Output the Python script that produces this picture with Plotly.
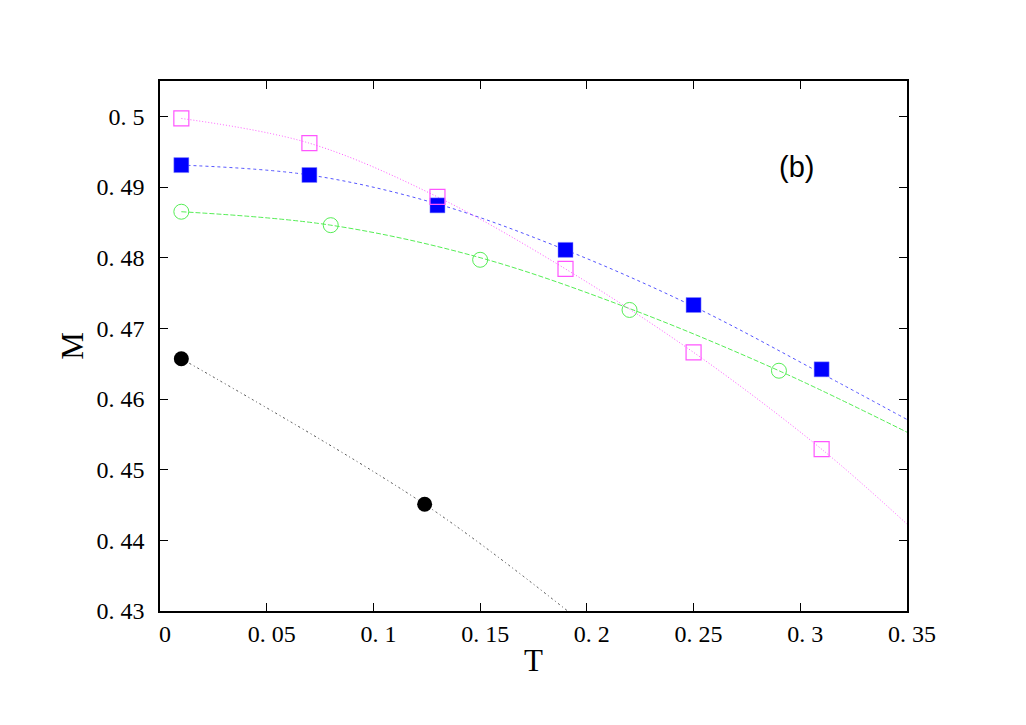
import plotly.graph_objects as go

# Data
T_mag = [0.01, 0.07, 0.13, 0.19, 0.25, 0.31]
M_mag = [0.4997, 0.4962, 0.4886, 0.4784, 0.4666, 0.4529]
T_blue = [0.01, 0.07, 0.13, 0.19, 0.25, 0.31]
M_blue = [0.4931, 0.4917, 0.4874, 0.4811, 0.4733, 0.4642]
T_green = [0.01, 0.08, 0.15, 0.22, 0.29]
M_green = [0.4865, 0.4846, 0.4797, 0.4726, 0.4640]
T_black = [0.01, 0.124]
M_black = [0.4657, 0.4451]

# Fitted curves
Tc_mag = [0.01, 0.07, 0.13, 0.19, 0.25, 0.31, 0.35]
Mc_mag = [0.4997, 0.4962, 0.4886, 0.4784, 0.4666, 0.4529, 0.4423]
Tc_blue = [0.01, 0.07, 0.13, 0.19, 0.25, 0.31, 0.35]
Mc_blue = [0.4931, 0.4917, 0.4876, 0.4811, 0.4731, 0.4636, 0.4571]
Tc_green = [0.01, 0.08, 0.15, 0.22, 0.29, 0.35]
Mc_green = [0.4865, 0.4846, 0.4800, 0.4728, 0.4640, 0.4553]
Tc_black = [0.01, 0.124, 0.191]
Mc_black = [0.4657, 0.4451, 0.4300]

x_ticks = [0, 0.05, 0.1, 0.15, 0.2, 0.25, 0.3, 0.35]
x_ticktext = ["0", "0. 05", "0. 1", "0. 15", "0. 2", "0. 25", "0. 3", "0. 35"]
y_ticks = [0.43, 0.44, 0.45, 0.46, 0.47, 0.48, 0.49, 0.5]
y_ticktext = ["0. 43", "0. 44", "0. 45", "0. 46", "0. 47", "0. 48", "0. 49", "0. 5"]

fig = go.Figure()

# curves
fig.add_trace(go.Scatter(x=Tc_black, y=Mc_black, mode="lines", line_shape="spline",
                         line=dict(color="#444444", width=1, dash="2px,3px,1px,3px"), showlegend=False))
fig.add_trace(go.Scatter(x=Tc_green, y=Mc_green, mode="lines", line_shape="spline",
                         line=dict(color="#55ee55", width=1, dash="5px,2px"), showlegend=False))
fig.add_trace(go.Scatter(x=Tc_blue, y=Mc_blue, mode="lines", line_shape="spline",
                         line=dict(color="#5555ff", width=1, dash="3px,3px"), showlegend=False))
fig.add_trace(go.Scatter(x=Tc_mag, y=Mc_mag, mode="lines", line_shape="spline",
                         line=dict(color="#ff55ff", width=1, dash="1px,2px"), showlegend=False))

# markers
fig.add_trace(go.Scatter(x=T_black, y=M_black, mode="markers",
                         marker=dict(symbol="circle", size=15, color="black"), showlegend=False))
fig.add_trace(go.Scatter(x=T_green, y=M_green, mode="markers",
                         marker=dict(symbol="circle-open", size=15, color="#55ee55",
                                     line=dict(width=1, color="#55ee55")), showlegend=False))
fig.add_trace(go.Scatter(x=T_blue, y=M_blue, mode="markers",
                         marker=dict(symbol="square", size=15, color="#0000ff",
                                     line=dict(width=0.5, color="#8888ff")), showlegend=False))
fig.add_trace(go.Scatter(x=T_mag, y=M_mag, mode="markers",
                         marker=dict(symbol="square-open", size=15, color="#ff55ff",
                                     line=dict(width=1.2, color="#ff55ff")), showlegend=False))

axis_common = dict(showgrid=False, zeroline=False, showline=True, linecolor="black", linewidth=1.5,
                   ticks="inside", ticklen=8, tickcolor="black", tickwidth=1, mirror="allticks",
                   tickfont=dict(family="Liberation Serif", size=24, color="black"))

fig.update_xaxes(range=[0, 0.35], tickvals=x_ticks, ticktext=x_ticktext, ticklabelshift=5,
                 ticklabelstandoff=0,
                 title=dict(text="T", font=dict(family="Liberation Serif", size=31, color="black"), standoff=4),
                 **axis_common)
fig.update_yaxes(range=[0.43, 0.505], tickvals=y_ticks, ticktext=y_ticktext, ticklabelstandoff=9,
                 title=dict(text="M", font=dict(family="Liberation Serif", size=31, color="black"), standoff=4),
                 **axis_common)

fig.add_annotation(x=0.298, y=0.4929, xref="x", yref="y", text="(b)", showarrow=False,
                   font=dict(family="Liberation Sans", size=29, color="black"))

fig.update_layout(width=1026, height=725, margin=dict(l=152, r=127, t=73, b=122),
                  plot_bgcolor="white", paper_bgcolor="white")

fig.write_html("out.html")
